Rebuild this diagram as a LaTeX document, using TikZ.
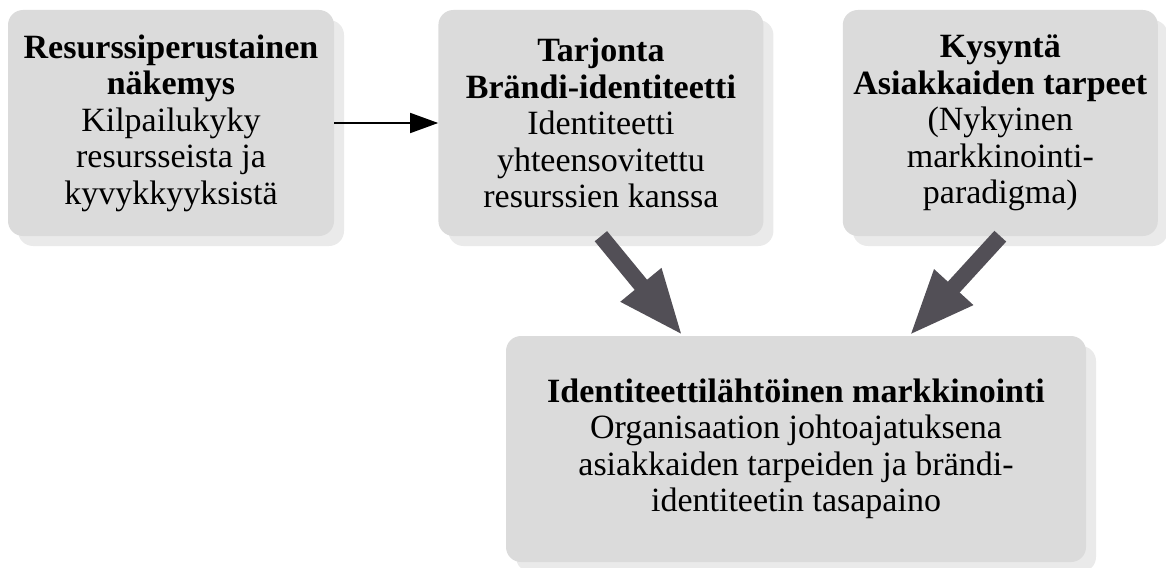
\documentclass[tikz,border=0pt]{standalone}
\usepackage{fontspec}
\setmainfont{Liberation Serif}
\usetikzlibrary{positioning,shadows,arrows.meta}
\definecolor{boxgray}{HTML}{DBDBDB}
\definecolor{shadowgray}{HTML}{EAEAEA}
\definecolor{arrowgray}{HTML}{524F56}

\begin{document}
\begin{tikzpicture}[x=1pt, y=-1pt,
    box/.style={rectangle, rounded corners=15pt, fill=boxgray, align=center,
      font=\fontsize{34}{36.5}\selectfont, inner sep=0pt, minimum height=226pt,
      general shadow={fill=shadowgray, shadow xshift=10pt, shadow yshift=-10pt}},
    bigarrow/.style={arrowgray, line width=16pt, -{Triangle[length=66pt, width=48pt]}},
    thinarrow/.style={line width=1.5pt, -{Triangle[length=28pt, width=20pt]}}]
  \useasboundingbox (0,0) rectangle (1166,567);
  \node (res) [box, minimum width=326pt] at (171,123)
    {\textbf{Resurssiperustainen}\\ \textbf{näkemys}\\ Kilpailukyky\\ resursseista ja\\ kyvykkyyksistä};
  \node (tarj) [box, minimum width=325pt, right=104pt of res]
    {\textbf{Tarjonta}\\ \textbf{Brändi-identiteetti}\\ Identiteetti\\ yhteensovitettu\\ resurssien kanssa};
  \node (kys) [box, minimum width=315pt, right=79pt of tarj]
    {\textbf{Kysyntä}\\ \textbf{Asiakkaiden tarpeet}\\ (Nykyinen\\ markkinointi-\\ paradigma)};
  \node (idm) [box, minimum width=580pt] at (796,449)
    {\textbf{Identiteettilähtöinen markkinointi}\\ Organisaation johtoajatuksena\\ asiakkaiden tarpeiden ja brändi-\\ identiteetin tasapaino};
    \draw[thinarrow] (res.east) -- (tarj.west);
    \draw[bigarrow] (tarj.south) -- (idm.135);
    \draw[bigarrow] (kys.south) -- (idm.45);
\end{tikzpicture}
\end{document}
